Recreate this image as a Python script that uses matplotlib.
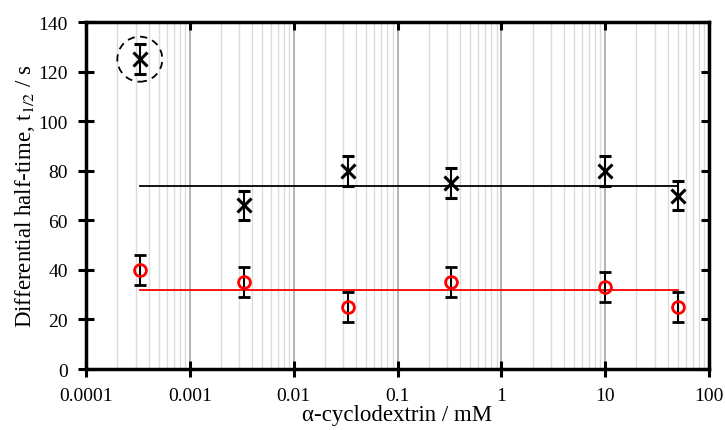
import matplotlib
matplotlib.use('Agg')
import matplotlib.pyplot as plt
import matplotlib.transforms as mtransforms
from matplotlib.patches import Circle
from matplotlib.ticker import LogLocator, NullFormatter, FixedLocator, FixedFormatter

plt.rcParams['font.family'] = ['Liberation Serif', 'DejaVu Serif']
plt.rcParams['mathtext.fontset'] = 'stix'

conc = [0.00033, 0.0033, 0.033, 0.33, 10, 50]
black_t = [125, 66, 80, 75, 80, 70]
black_err = [6, 6, 6, 6, 6, 6]
red_t = [40, 35, 25, 35, 33, 25]
red_err = [6, 6, 6, 6, 6, 6]
black_mean = 74
red_mean = 32
xtick_vals = [0.0001, 0.001, 0.01, 0.1, 1, 10, 100]
xtick_labels = ['0.0001', '0.001', '0.01', '0.1', '1', '10', '100']

fig = plt.figure(figsize=(7.25, 4.31), dpi=100)
ax = fig.add_axes([0.1186, 0.1415, 0.8594, 0.8051])
ax.set_xscale('log')
ax.set_xlim(0.0001, 100)
ax.set_ylim(0, 140)

ax.xaxis.set_major_locator(FixedLocator(xtick_vals))
ax.xaxis.set_major_formatter(FixedFormatter(xtick_labels))
ax.xaxis.set_minor_locator(LogLocator(base=10, subs=range(2, 10), numticks=20))
ax.xaxis.set_minor_formatter(NullFormatter())
ax.set_yticks(range(0, 141, 20))

ax.grid(which='minor', axis='x', color='#dcdcdc', linewidth=1)
ax.grid(which='major', axis='x', color='#a6a6a6', linewidth=1.2)
ax.set_axisbelow(True)

ax.plot([conc[0], conc[-1]], [black_mean, black_mean], color='black', linewidth=1.3, zorder=2)
ax.plot([conc[0], conc[-1]], [red_mean, red_mean], color='red', linewidth=1.3, zorder=2)

ax.errorbar(conc, black_t, yerr=black_err, fmt='x', color='black', markersize=10,
            markeredgewidth=2.2, ecolor='black', elinewidth=1.5, capsize=4.5, capthick=1.5, zorder=3)
ax.errorbar(conc, red_t, yerr=red_err, fmt='o', color='red', markersize=8.5,
            markerfacecolor='none', markeredgewidth=2, ecolor='black', elinewidth=1.5,
            capsize=4.5, capthick=1.5, zorder=3)

trans = fig.dpi_scale_trans + mtransforms.ScaledTranslation(conc[0], black_t[0], ax.transData)
ax.add_patch(Circle((0, 0), 0.225, transform=trans, fill=False, edgecolor='black',
                    linestyle=(0, (4, 3)), linewidth=1.3, zorder=4))

for s in ax.spines.values():
    s.set_linewidth(2.5)
ax.tick_params(which='major', direction='inout', length=12, width=2.2, labelsize=14, pad=7)
ax.tick_params(which='minor', length=0)
ax.tick_params(which='major', top=True, right=True)

# top/right ticks point inward only
for t in ax.xaxis.get_major_ticks():
    t.tick2line.set_markersize(6)
    t.tick2line.set_marker(3)
for t in ax.yaxis.get_major_ticks():
    t.tick2line.set_markersize(6)
    t.tick2line.set_marker(0)

ax.set_xlabel('α-cyclodextrin / mM', fontsize=16.5, labelpad=0)
ax.set_ylabel('Differential half-time, t$_{1/2}$ / s', fontsize=16.5, labelpad=1)

fig.savefig('out.png', dpi=100)
